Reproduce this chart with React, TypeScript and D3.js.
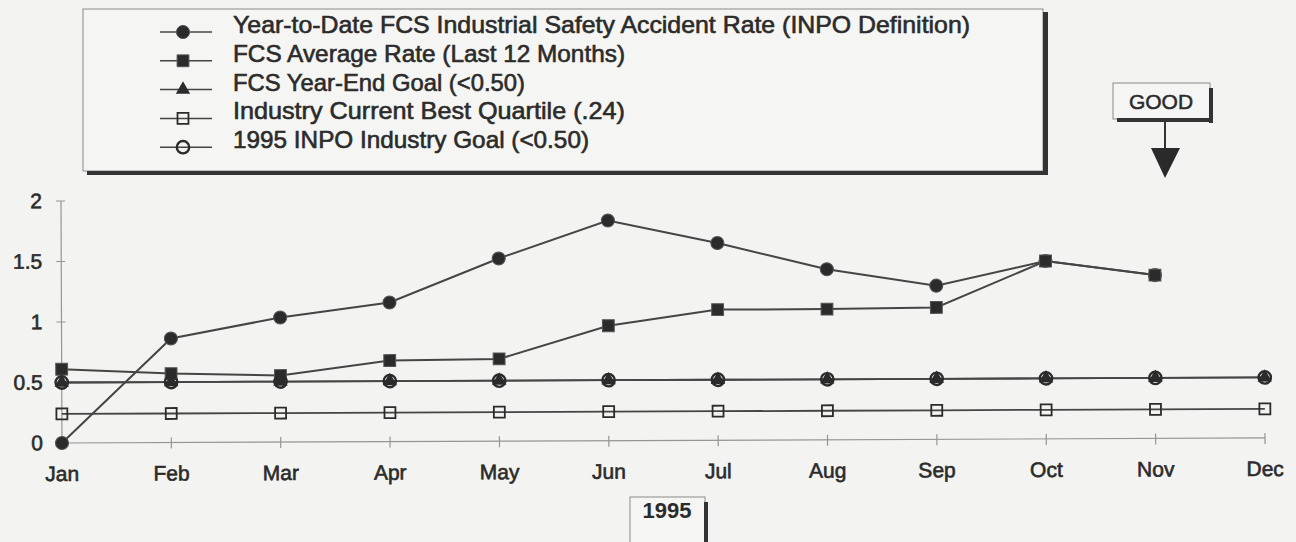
import { useMemo } from 'react';
import * as d3 from 'd3';

const months = ['Jan', 'Feb', 'Mar', 'Apr', 'May', 'Jun', 'Jul', 'Aug', 'Sep', 'Oct', 'Nov', 'Dec'];
const ytdRate = [0, 0.86, 1.03, 1.15, 1.51, 1.82, 1.63, 1.41, 1.27, 1.47, 1.35];
const avgRate = [0.61, 0.57, 0.55, 0.67, 0.68, 0.95, 1.08, 1.08, 1.09, 1.47, 1.35];
const yearEndGoal = [0.5, 0.5, 0.5, 0.5, 0.5, 0.5, 0.5, 0.5, 0.5, 0.5, 0.5, 0.5];
const bestQuartile = [0.24, 0.24, 0.24, 0.24, 0.24, 0.24, 0.24, 0.24, 0.24, 0.24, 0.24, 0.24];
const inpoGoal = [0.5, 0.5, 0.5, 0.5, 0.5, 0.5, 0.5, 0.5, 0.5, 0.5, 0.5, 0.5];
const yTicks = [0, 0.5, 1, 1.5, 2];

const legendLabels = [
    'Year-to-Date  FCS Industrial Safety Accident Rate (INPO Definition)',
    'FCS Average Rate (Last 12 Months)',
    'FCS Year-End Goal (<0.50)',
    'Industry Current Best Quartile (.24)',
    '1995 INPO Industry Goal (<0.50)',
];
const legendWidths = [737, 392, 292, 392, 356];

const INK = '#2b2b2b';
const LINE = '#454545';
const AXIS = '#959595';
const FONT = 'Arial, "Liberation Sans", Helvetica, sans-serif';
const NARROW = '"Liberation Sans Narrow", "Arial Narrow", "Liberation Sans", Arial, sans-serif';

type Mark = 'circle' | 'square' | 'triangle' | 'openSquare' | 'openCircle';

const series: { values: number[]; mark: Mark }[] = [
    { values: ytdRate, mark: 'circle' },
    { values: avgRate, mark: 'square' },
    { values: yearEndGoal, mark: 'triangle' },
    { values: bestQuartile, mark: 'openSquare' },
    { values: inpoGoal, mark: 'openCircle' },
];

function Marker({ mark, x, y }: { mark: Mark; x: number; y: number }) {
    const t = `translate(${x},${y})`;
    if (mark === 'circle') {
        return <path transform={t} d={d3.symbol(d3.symbolCircle, 135)()!} fill={INK} stroke="#555" strokeWidth={1} />;
    }
    if (mark === 'square') {
        return <path transform={t} d={d3.symbol(d3.symbolSquare, 140)()!} fill={INK} stroke="#555" strokeWidth={1} />;
    }
    if (mark === 'triangle') {
        return <path transform={t} d={d3.symbol(d3.symbolTriangle, 90)()!} fill={INK} />;
    }
    if (mark === 'openSquare') {
        return <path transform={t} d={d3.symbol(d3.symbolSquare, 120)()!} fill="none" stroke={INK} strokeWidth={1.8} />;
    }
    return <path transform={t} d={d3.symbol(d3.symbolCircle, 120)()!} fill="none" stroke={INK} strokeWidth={2.4} />;
}

export default function App() {
    const width = 1296;
    const height = 542;

    const x = useMemo(() => d3.scalePoint<string>().domain(months).range([62, 1265]), []);
    const y = useMemo(() => d3.scaleLinear().domain([0, 2]).range([443, 201]), []);

    const line = d3.line<number>()
        .x((_, i) => x(months[i])!)
        .y(d => y(d));

    const legendX = 83;
    const legendY = 9;
    const legendW = 960;
    const legendH = 162;
    const baseY = (i: number) => 33 + i * 28.8;

    return (
        <svg width={width} height={height} style={{ position: 'fixed', left: 0, top: 0 }}>
            <rect x={0} y={0} width={width} height={height} fill="#f3f3f1" />

            {/* Legend box with heavy drop shadow */}
            <g>
                <rect x={legendX} y={legendY} width={legendW} height={legendH} fill="#f5f5f3" stroke="#8a8a8a" strokeWidth={1} />
                <rect x={legendX + legendW} y={legendY + 3} width={5} height={legendH + 1} fill="#333" />
                <rect x={legendX + 4} y={legendY + legendH} width={legendW + 1} height={4} fill="#333" />
                {legendLabels.map((label, i) => (
                    <g key={label}>
                        <line x1={160} x2={212} y1={baseY(i) - 1} y2={baseY(i) - 1} stroke={LINE} strokeWidth={1.5} />
                        <Marker mark={series[i].mark} x={183} y={baseY(i) - 1} />
                        <text
                            x={233}
                            y={baseY(i)}
                            fontFamily={NARROW}
                            fontSize={24}
                            fill={INK}
                            stroke={INK}
                            strokeWidth={0.6}
                            textLength={legendWidths[i]}
                            lengthAdjust="spacingAndGlyphs"
                        >
                            {label}
                        </text>
                    </g>
                ))}
            </g>

            {/* GOOD direction marker */}
            <g>
                <rect x={1113} y={83} width={97} height={36} fill="#f5f5f3" stroke="#8a8a8a" strokeWidth={1} />
                <rect x={1209} y={88} width={4} height={35} fill="#333" />
                <rect x={1117} y={118} width={96} height={4} fill="#333" />
                <text x={1161} y={109} textAnchor="middle" fontFamily={FONT} fontSize={21} fill={INK} stroke={INK} strokeWidth={0.5}>GOOD</text>
                <line x1={1165} x2={1165} y1={122} y2={150} stroke="#333" strokeWidth={2} />
                <path d="M1151,148 L1180,148 L1165,178 Z" fill="#2a2a2a" />
            </g>

            {/* Plot (scan is very slightly rotated) */}
            <g transform="rotate(-0.24, 62, 443)">
                <line x1={62} x2={62} y1={y(2)} y2={y(0)} stroke={AXIS} strokeWidth={1.2} />
                <line x1={62} x2={x('Dec')!} y1={y(0)} y2={y(0)} stroke={AXIS} strokeWidth={1.2} />
                {yTicks.map(t => (
                    <g key={t}>
                        <line x1={57} x2={66} y1={y(t)} y2={y(t)} stroke={AXIS} strokeWidth={1.2} />
                        <text x={43} y={y(t) + 7} textAnchor="end" fontFamily={FONT} fontSize={21} fill={INK} stroke={INK} strokeWidth={0.6}>
                            {d3.format('~g')(t)}
                        </text>
                    </g>
                ))}
                {months.map(m => (
                    <g key={m}>
                        <line x1={x(m)!} x2={x(m)!} y1={y(0) - 5} y2={y(0) + 6} stroke={AXIS} strokeWidth={1.2} />
                        <text x={x(m)!} y={y(0) + 38} textAnchor="middle" fontFamily={FONT} fontSize={21} fill={INK} stroke={INK} strokeWidth={0.6}>
                            {m}
                        </text>
                    </g>
                ))}

                {series.map((s, si) => (
                    <path key={si} d={line(s.values)!} fill="none" stroke={LINE} strokeWidth={si < 2 ? 2 : 1.8} />
                ))}
                {series.map((s, si) =>
                    s.values.map((v, i) => <Marker key={`${si}-${i}`} mark={s.mark} x={x(months[i])!} y={y(v)} />)
                )}
            </g>

            {/* Year box */}
            <g>
                <rect x={630} y={497} width={75} height={60} fill="#f5f5f3" stroke="#8a8a8a" strokeWidth={1} />
                <rect x={704} y={502} width={4} height={50} fill="#333" />
                <text x={667} y={518} textAnchor="middle" fontFamily={FONT} fontSize={22} fontWeight="bold" fill={INK}>1995</text>
            </g>
        </svg>
    );
}
